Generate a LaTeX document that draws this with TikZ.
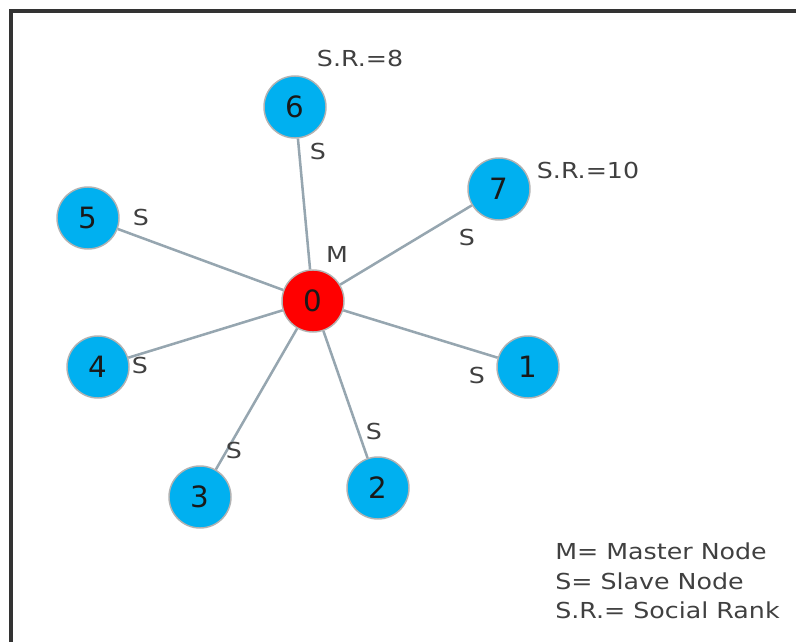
\documentclass[tikz,border=0pt]{standalone}
\usepackage{fontspec}
\setmainfont{DejaVu Sans}
\newfontfamily\labelfont[FakeStretch=1.15]{DejaVu Sans}
\usetikzlibrary{positioning}
\definecolor{slaveblue}{RGB}{0,176,240}
\definecolor{linkgray}{RGB}{150,166,176}
\definecolor{labelgray}{RGB}{64,64,64}
\tikzset{
    slave/.style={circle, draw=black!30, line width=1.1pt, fill=slaveblue, minimum size=46.5pt, inner sep=0pt, text=black!90, font=\fontsize{22}{22}\selectfont},
    master/.style={slave, fill=red},
    link/.style={draw=linkgray, line width=1.9pt},
    lbl/.style={inner sep=0pt, text=labelgray, font=\labelfont\fontsize{16.5}{22}\selectfont}
}

\begin{document}
\begin{tikzpicture}[x=0.75pt, y=-0.75pt]
    \useasboundingbox (0,0) rectangle (796,642);
    \draw[line width=2.3pt, black!80] (11,660) -- (11,11) -- (810,11);
    \node[master] (n0) at (313,301) {0};
    \node[lbl] (m0) at (337,254) {M};
        \foreach \n/\x/\y/\sx/\sy in {1/528/367/477/375,
                                     2/378/488/374/431,
                                     3/200/497/234/450,
                                     4/98/367/140/365,
                                     5/88/218/141/217,
                                     6/295/107/318/151,
                                     7/499/189/467/237
                                     } {
            \node[slave] (n\n) at (\x,\y) {\n};
            \draw[link] (n0) -- (n\n);
            \node[lbl] (s\n) at (\sx,\sy) {S};
        }
    \node[lbl] (r6) at (360,58) {S.R.=8};
    \node[lbl] (r7) at (588,170) {S.R.=10};
    \node[lbl, anchor=west, align=left] (key) at (555,581) {M= Master Node\\S= Slave Node\\S.R.= Social Rank};
\end{tikzpicture}
\end{document}
